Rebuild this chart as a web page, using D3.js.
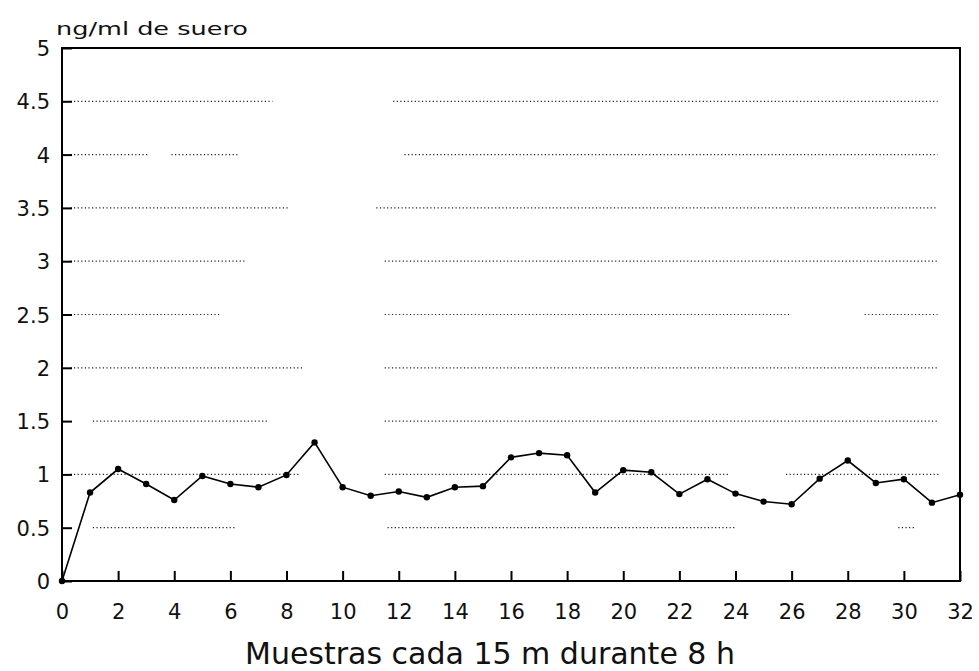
<!DOCTYPE html>
<html>
<head>
<meta charset="utf-8">
<script src="https://cdn.jsdelivr.net/npm/d3@7"></script>
<style>
  body { margin: 0; background: #fff; }
  svg text { font-family: "DejaVu Sans", "Liberation Sans", sans-serif; fill: #111; }
</style>
</head>
<body>
<div id="chart"></div>
<script>
// muestras cada 15 min (0..32) y concentración en ng/ml
const muestras = d3.range(0, 33);
const valores = [0, 0.83, 1.05, 0.91, 0.76, 0.985, 0.91, 0.88, 0.995, 1.30,
                 0.88, 0.80, 0.84, 0.785, 0.88, 0.89, 1.16, 1.20, 1.18, 0.83,
                 1.04, 1.02, 0.815, 0.955, 0.82, 0.745, 0.72, 0.96, 1.13, 0.92,
                 0.955, 0.735, 0.81];
const yTicks = [0, 0.5, 1, 1.5, 2, 2.5, 3, 3.5, 4, 4.5, 5];
const xTicks = d3.range(0, 33, 2);
const yLabel = "ng/ml de suero";
const xLabel = "Muestras cada 15 m durante 8 h";
// tramos visibles de las líneas de rejilla punteadas (en unidades de x)
const gridLevels = [4.5, 4, 3.5, 3, 2.5, 2, 1.5, 1, 0.5];
const gridTramos = [
  [[0.3, 7.5], [11.8, 31.2]],
  [[0.3, 3.1], [3.9, 6.3], [12.2, 31.2]],
  [[0.3, 8.1], [11.2, 31.2]],
  [[0.3, 6.5], [11.5, 31.2]],
  [[0.3, 5.6], [11.5, 26.0], [28.6, 31.2]],
  [[0.3, 8.6], [11.5, 31.2]],
  [[1.1, 7.3], [11.5, 31.2]],
  [[0.3, 8.5], [11.5, 23.8], [25.8, 31.3]],
  [[1.1, 6.2], [11.6, 24.0], [29.8, 30.4]]
];

const width = 979, height = 671;
const m = { left: 62, right: 19, top: 48, bottom: 90 };

const svg = d3.select('#chart').append('svg')
  .attr('width', width).attr('height', height)
  .attr('viewBox', `0 0 ${width} ${height}`);

const x = d3.scaleLinear().domain([0, 32]).range([m.left, width - m.right]);
const y = d3.scaleLinear().domain([0, 5]).range([height - m.bottom, m.top]);

// rejilla punteada
gridLevels.forEach((lv, i) => {
  svg.selectAll(null).data(gridTramos[i]).enter().append('line')
    .attr('x1', d => x(d[0])).attr('x2', d => x(d[1]))
    .attr('y1', y(lv)).attr('y2', y(lv))
    .attr('stroke', '#222').attr('stroke-width', 1.2)
    .attr('stroke-dasharray', '1.2,2.4');
});

// marco
svg.append('rect')
  .attr('x', x(0)).attr('y', y(5))
  .attr('width', x(32) - x(0)).attr('height', y(0) - y(5))
  .attr('fill', 'none').attr('stroke', '#000').attr('stroke-width', 2);

// eje y
const yAxis = d3.axisLeft(y).tickValues(yTicks).tickSize(-10).tickPadding(12)
  .tickFormat(d => String(d));
const gy = svg.append('g').attr('transform', `translate(${x(0)},0)`).call(yAxis);
gy.attr('font-family', null).attr('font-size', null);
gy.select('.domain').remove();
gy.selectAll('line').attr('stroke', '#000').attr('stroke-width', 2);
gy.selectAll('text').style('font-size', '21px').attr('x', -12).attr('dy', '0.36em');

// eje x
const xAxis = d3.axisBottom(x).tickValues(xTicks).tickSize(-10).tickPadding(16)
  .tickFormat(d => String(d));
const gx = svg.append('g').attr('transform', `translate(0,${y(0)})`).call(xAxis);
gx.attr('font-family', null).attr('font-size', null);
gx.select('.domain').remove();
gx.selectAll('line').attr('stroke', '#000').attr('stroke-width', 2);
gx.selectAll('text').style('font-size', '21px').attr('y', 38).attr('dy', 0);

// serie
const serie = muestras.map((d, i) => ({ m: d, v: valores[i] }));
svg.append('path').datum(serie)
  .attr('d', d3.line().x(d => x(d.m)).y(d => y(d.v)))
  .attr('fill', 'none').attr('stroke', '#000').attr('stroke-width', 1.6);

svg.selectAll('circle.pt').data(serie).enter().append('circle')
  .attr('class', 'pt')
  .attr('cx', d => x(d.m)).attr('cy', d => y(d.v)).attr('r', 3.2)
  .attr('fill', '#000');

// títulos
svg.append('text').attr('x', 56).attr('y', 35)
  .style('font-size', '18px')
  .attr('textLength', 192).attr('lengthAdjust', 'spacingAndGlyphs')
  .text(yLabel);

svg.append('text').attr('x', 245).attr('y', 664)
  .style('font-size', '31px')
  .attr('textLength', 490).attr('lengthAdjust', 'spacingAndGlyphs')
  .text(xLabel);
</script>
</body>
</html>
